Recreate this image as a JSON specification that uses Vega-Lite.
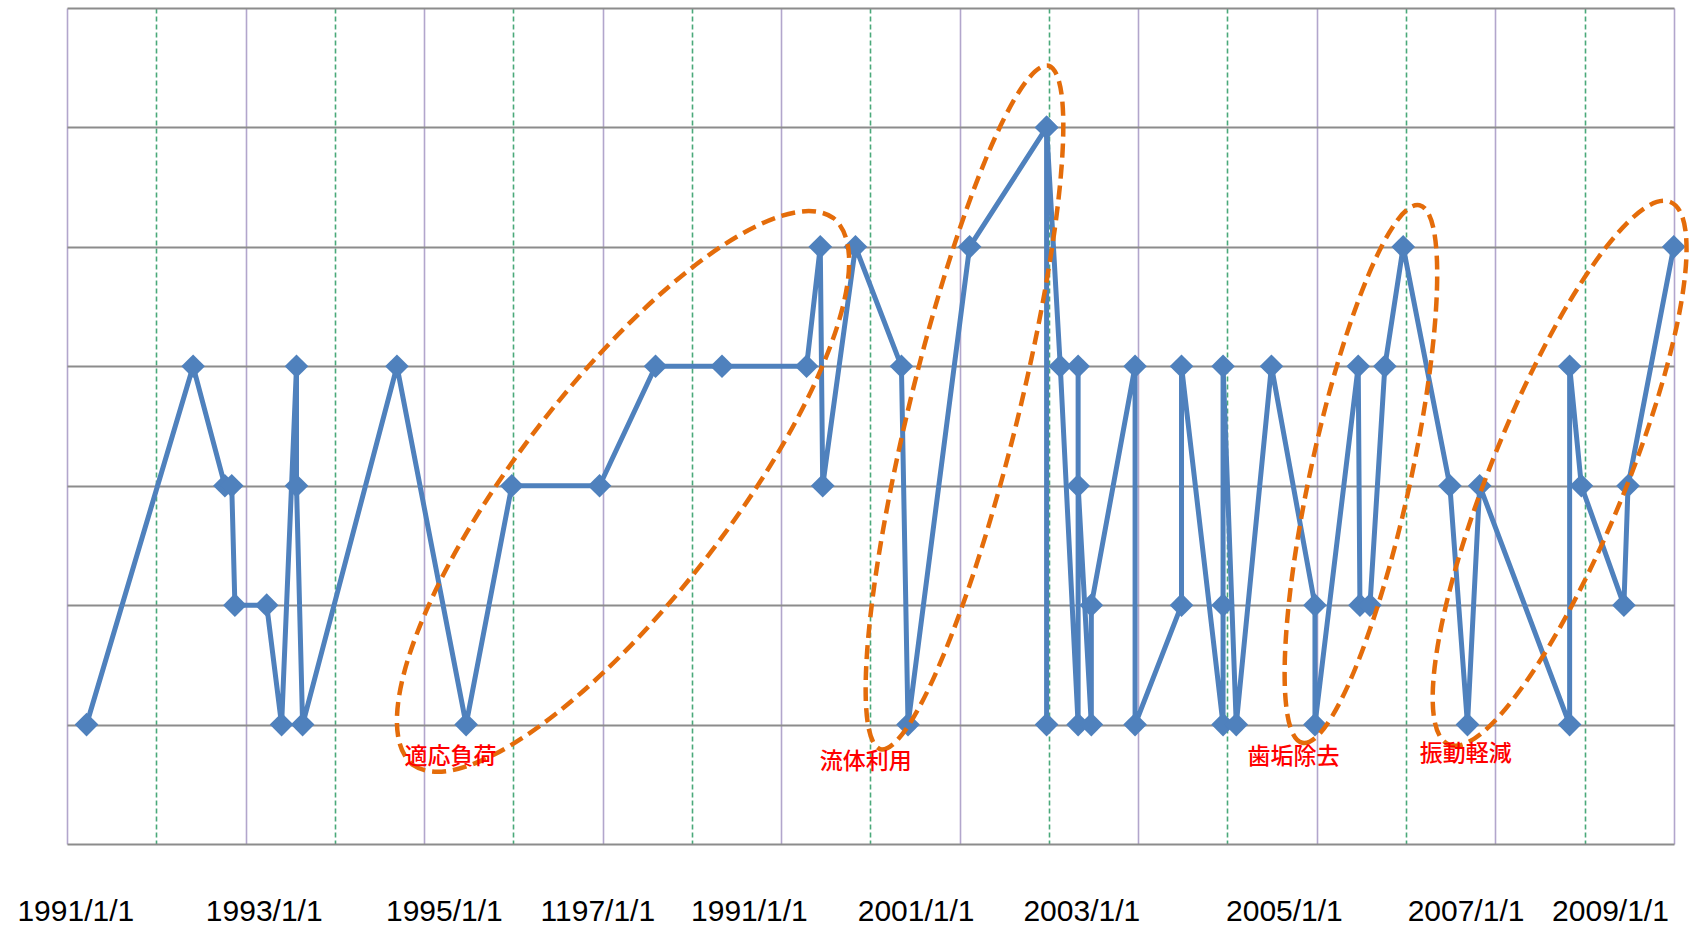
{
  "$schema": "https://vega.github.io/schema/vega-lite/v6.json",
  "width": 1607,
  "height": 836,
  "autosize": {"type": "none"},
  "padding": {"left": 67, "top": 8, "right": 20, "bottom": 84},
  "background": "white",
  "config": {"view": {"stroke": null}},
  "datasets": {
    "series": [
      {"i": 1, "date": "1991-03-22", "level": 1},
      {"i": 2, "date": "1992-05-31", "level": 4},
      {"i": 3, "date": "1992-10-08", "level": 3},
      {"i": 4, "date": "1992-11-05", "level": 3},
      {"i": 5, "date": "1992-11-18", "level": 2},
      {"i": 6, "date": "1993-03-28", "level": 2},
      {"i": 7, "date": "1993-05-28", "level": 1},
      {"i": 8, "date": "1993-07-28", "level": 4},
      {"i": 9, "date": "1993-07-28", "level": 3},
      {"i": 10, "date": "1993-08-22", "level": 1},
      {"i": 11, "date": "1994-09-12", "level": 4},
      {"i": 12, "date": "1995-06-22", "level": 1},
      {"i": 13, "date": "1995-12-26", "level": 3},
      {"i": 14, "date": "1996-12-19", "level": 3},
      {"i": 15, "date": "1997-08-05", "level": 4},
      {"i": 16, "date": "1998-05-04", "level": 4},
      {"i": 17, "date": "1999-04-15", "level": 4},
      {"i": 18, "date": "1999-06-10", "level": 5},
      {"i": 19, "date": "1999-06-20", "level": 3},
      {"i": 20, "date": "1999-11-01", "level": 5},
      {"i": 21, "date": "2000-05-07", "level": 4},
      {"i": 22, "date": "2000-06-03", "level": 1},
      {"i": 23, "date": "2001-02-10", "level": 5},
      {"i": 24, "date": "2001-12-22", "level": 6},
      {"i": 25, "date": "2001-12-22", "level": 1},
      {"i": 26, "date": "2001-12-22", "level": 6},
      {"i": 27, "date": "2002-02-16", "level": 4},
      {"i": 28, "date": "2002-04-30", "level": 1},
      {"i": 29, "date": "2002-04-30", "level": 4},
      {"i": 30, "date": "2002-04-30", "level": 3},
      {"i": 31, "date": "2002-06-23", "level": 1},
      {"i": 32, "date": "2002-06-23", "level": 2},
      {"i": 33, "date": "2002-12-19", "level": 4},
      {"i": 34, "date": "2002-12-19", "level": 1},
      {"i": 35, "date": "2003-06-27", "level": 2},
      {"i": 36, "date": "2003-06-27", "level": 4},
      {"i": 37, "date": "2003-12-14", "level": 1},
      {"i": 38, "date": "2003-12-14", "level": 2},
      {"i": 39, "date": "2003-12-14", "level": 4},
      {"i": 40, "date": "2004-02-06", "level": 1},
      {"i": 41, "date": "2004-06-29", "level": 4},
      {"i": 42, "date": "2004-12-24", "level": 2},
      {"i": 43, "date": "2004-12-24", "level": 1},
      {"i": 44, "date": "2005-06-19", "level": 4},
      {"i": 45, "date": "2005-06-26", "level": 2},
      {"i": 46, "date": "2005-08-06", "level": 2},
      {"i": 47, "date": "2005-10-06", "level": 4},
      {"i": 48, "date": "2005-12-20", "level": 5},
      {"i": 49, "date": "2006-06-29", "level": 3},
      {"i": 50, "date": "2006-09-09", "level": 1},
      {"i": 51, "date": "2006-10-29", "level": 3},
      {"i": 52, "date": "2007-11-01", "level": 1},
      {"i": 53, "date": "2007-11-01", "level": 4},
      {"i": 54, "date": "2007-12-19", "level": 3},
      {"i": 55, "date": "2008-06-10", "level": 2},
      {"i": 56, "date": "2008-06-27", "level": 3},
      {"i": 57, "date": "2008-12-31", "level": 5}
    ],
    "ellipses": [
      {"name": "適応負荷", "date": "1997-03-25", "level": 2.952},
      {"name": "流体利用", "date": "2001-01-20", "level": 3.655},
      {"name": "歯垢除去", "date": "2005-06-30", "level": 3.098},
      {"name": "振動軽減", "date": "2007-09-21", "level": 3.104}
    ],
    "notes": [
      {"label": "適応負荷", "date": "1995-04-19", "level": 0.731},
      {"label": "流体利用", "date": "1999-12-13", "level": 0.687},
      {"label": "歯垢除去", "date": "2004-09-27", "level": 0.731},
      {"label": "振動軽減", "date": "2006-09-02", "level": 0.757}
    ]
  },
  "layer": [
    {
      "data": {"name": "series"},
      "mark": {
        "type": "line",
        "color": "#4f81bd",
        "strokeWidth": 5,
        "strokeJoin": "round",
        "strokeCap": "round",
        "point": {"shape": "diamond", "size": 560, "filled": true, "color": "#4f81bd", "opacity": 1}
      },
      "encoding": {
        "x": {
          "field": "date",
          "type": "temporal",
          "scale": {"domain": [{"year": 1991, "month": 1, "date": 1, "utc": true}, {"year": 2009, "month": 1, "date": 1, "utc": true}], "nice": false},
          "axis": {
            "orient": "bottom",
            "title": null,
            "labels": false,
            "ticks": false,
            "domain": false,
            "grid": true,
            "gridOpacity": 1,
            "gridWidth": 1.6,
            "gridColor": {"condition": {"test": "utcyear(datum.value) % 2 == 0", "value": "#4aa97a"}, "value": "#b2a6cc"},
            "gridDash": {"condition": {"test": "utcyear(datum.value) % 2 == 0", "value": [5, 3]}, "value": []},
            "values": [
              {"year": 1991, "month": 1, "date": 1, "utc": true},
              {"year": 1992, "month": 1, "date": 1, "utc": true},
              {"year": 1993, "month": 1, "date": 1, "utc": true},
              {"year": 1994, "month": 1, "date": 1, "utc": true},
              {"year": 1995, "month": 1, "date": 1, "utc": true},
              {"year": 1996, "month": 1, "date": 1, "utc": true},
              {"year": 1997, "month": 1, "date": 1, "utc": true},
              {"year": 1998, "month": 1, "date": 1, "utc": true},
              {"year": 1999, "month": 1, "date": 1, "utc": true},
              {"year": 2000, "month": 1, "date": 1, "utc": true},
              {"year": 2001, "month": 1, "date": 1, "utc": true},
              {"year": 2002, "month": 1, "date": 1, "utc": true},
              {"year": 2003, "month": 1, "date": 1, "utc": true},
              {"year": 2004, "month": 1, "date": 1, "utc": true},
              {"year": 2005, "month": 1, "date": 1, "utc": true},
              {"year": 2006, "month": 1, "date": 1, "utc": true},
              {"year": 2007, "month": 1, "date": 1, "utc": true},
              {"year": 2008, "month": 1, "date": 1, "utc": true},
              {"year": 2009, "month": 1, "date": 1, "utc": true}
            ]
          }
        },
        "y": {
          "field": "level",
          "type": "quantitative",
          "scale": {"domain": [0, 7], "nice": false, "zero": false},
          "axis": {
            "orient": "left",
            "title": null,
            "labels": false,
            "ticks": false,
            "domain": false,
            "grid": true,
            "gridColor": "#8c8c8c",
            "gridWidth": 1.8,
            "gridOpacity": 1,
            "values": [0, 1, 2, 3, 4, 5, 6, 7]
          }
        },
        "order": {"field": "i", "type": "quantitative"}
      }
    },
    {
      "data": {"name": "ellipses"},
      "mark": {
        "type": "point",
        "filled": false,
        "size": 4,
        "color": "#e46c0a",
        "strokeWidth": 4.5,
        "strokeDash": [14, 7],
        "opacity": 1
      },
      "encoding": {
        "x": {
          "field": "date",
          "type": "temporal",
          "scale": {"domain": [{"year": 1991, "month": 1, "date": 1, "utc": true}, {"year": 2009, "month": 1, "date": 1, "utc": true}], "nice": false},
          "axis": {
            "orient": "bottom",
            "title": null,
            "grid": false,
            "ticks": false,
            "tickSize": 0,
            "domain": false,
            "labelFont": "Liberation Sans",
            "labelFontSize": 30,
            "labelColor": "#000000",
            "labelBaseline": "alphabetic",
            "labelAlign": "center",
            "labelPadding": 76,
            "labelFlush": false,
            "labelOverlap": false,
            "labelBound": false,
            "values": [
              {"year": 1991, "month": 2, "date": 4, "utc": true},
              {"year": 1993, "month": 3, "date": 16, "utc": true},
              {"year": 1995, "month": 3, "date": 23, "utc": true},
              {"year": 1996, "month": 12, "date": 10, "utc": true},
              {"year": 1998, "month": 8, "date": 22, "utc": true},
              {"year": 2000, "month": 7, "date": 4, "utc": true},
              {"year": 2002, "month": 5, "date": 13, "utc": true},
              {"year": 2004, "month": 8, "date": 19, "utc": true},
              {"year": 2006, "month": 9, "date": 1, "utc": true},
              {"year": 2008, "month": 4, "date": 14, "utc": true}
            ],
            "labelExpr": "utcyear(datum.value) == 1991 ? '1991/1/1' : utcyear(datum.value) == 1993 ? '1993/1/1' : utcyear(datum.value) == 1995 ? '1995/1/1' : utcyear(datum.value) == 1996 ? '1197/1/1' : utcyear(datum.value) == 1998 ? '1991/1/1' : utcyear(datum.value) == 2000 ? '2001/1/1' : utcyear(datum.value) == 2002 ? '2003/1/1' : utcyear(datum.value) == 2004 ? '2005/1/1' : utcyear(datum.value) == 2006 ? '2007/1/1' : '2009/1/1'"
          }
        },
        "y": {
          "field": "level",
          "type": "quantitative",
          "scale": {"domain": [0, 7], "nice": false, "zero": false},
          "axis": null
        },
        "shape": {
          "field": "name",
          "type": "nominal",
          "legend": null,
          "scale": {
            "domain": ["適応負荷", "流体利用", "歯垢除去", "振動軽減"],
            "range": [
              "M -210.5 273.3 A 345 108 -52.4 0 0 210.5 -273.3 A 345 108 -52.4 0 0 -210.5 273.3 Z",
              "M -84 341.8 A 352 55 -76.2 0 0 84 -341.8 A 352 55 -76.2 0 0 -84 341.8 Z",
              "M -58.6 268.7 A 275 50 -77.7 0 0 58.6 -268.7 A 275 50 -77.7 0 0 -58.6 268.7 Z",
              "M -110.7 271.3 A 293 67 -67.8 0 0 110.7 -271.3 A 293 67 -67.8 0 0 -110.7 271.3 Z"
            ]
          }
        }
      }
    },
    {
      "data": {"name": "notes"},
      "mark": {
        "type": "text",
        "color": "#ff0000",
        "font": "Noto Sans CJK JP",
        "fontSize": 23,
        "fontWeight": 500,
        "align": "center",
        "baseline": "middle"
      },
      "encoding": {
        "x": {
          "field": "date",
          "type": "temporal",
          "scale": {"domain": [{"year": 1991, "month": 1, "date": 1, "utc": true}, {"year": 2009, "month": 1, "date": 1, "utc": true}], "nice": false},
          "axis": null
        },
        "y": {
          "field": "level",
          "type": "quantitative",
          "scale": {"domain": [0, 7], "nice": false, "zero": false},
          "axis": null
        },
        "text": {"field": "label", "type": "nominal"}
      }
    }
  ],
  "resolve": {"axis": {"x": "independent", "y": "independent"}}
}
